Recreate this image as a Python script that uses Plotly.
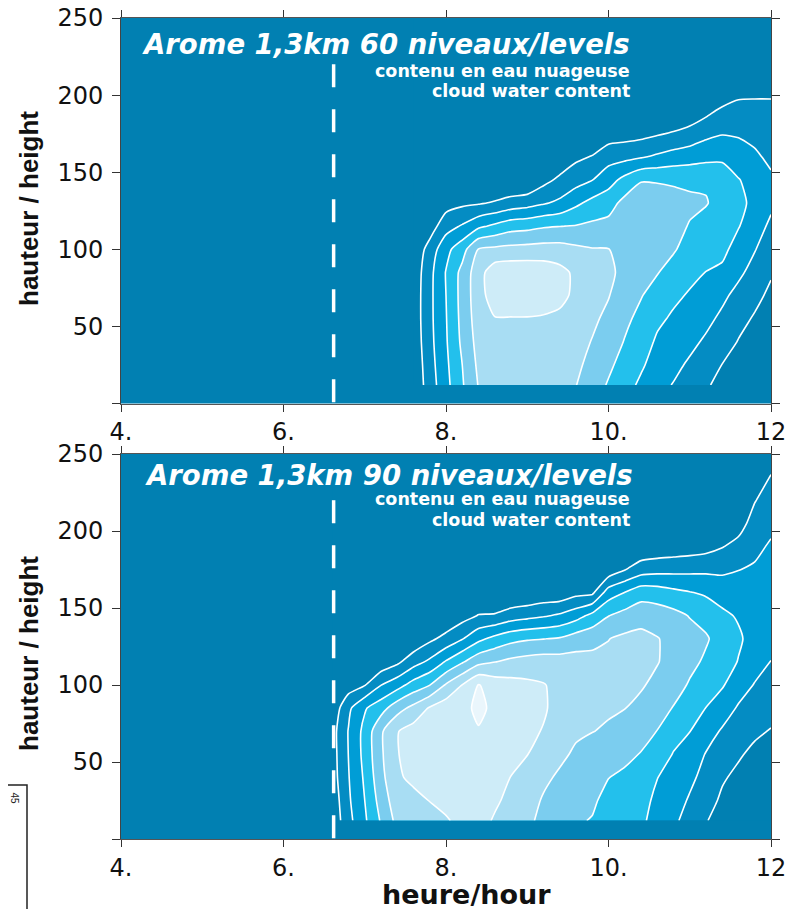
import numpy as np
import plotly.graph_objects as go

# ---------------- data ----------------
hours_ticks = [4, 6, 8, 10, 12]
hours_labels = ["4.", "6.", "8.", "10.", "12"]
height_ticks = [0, 50, 100, 150, 200, 250]
height_labels = ["", "50", "100", "150", "200", "250"]
run_start_hour = 6.617

# panel 1 : Arome 1,3km 60 levels  (cloud water content class, one column per hour)
p1_hours = [7.6, 7.8, 8.0, 8.2, 8.4, 8.6, 8.8, 9.0, 9.2, 9.4, 9.6, 9.8, 10.0,
            10.2, 10.4, 10.6, 10.8, 11.0, 11.2, 11.4, 11.6, 11.8, 12.0]
p1_heights = [12, 25, 40, 55, 70, 85, 100, 115, 130, 145, 160, 175, 190, 205, 250]
p1_columns = [
    [0.2, 0.25, 0.35, 0.4, 0.4, 0.35, 0.2, 0, 0, 0, 0, 0, 0, 0, 0],
    [1.5, 1.6, 1.7, 1.75, 1.75, 1.7, 1.4, 0.5, 0, 0, 0, 0, 0, 0, 0],
    [2.7, 2.8, 2.9, 2.95, 3.0, 3.05, 2.7, 1.6, 0.6, 0, 0, 0, 0, 0, 0],
    [3.9, 4.0, 4.2, 4.3, 4.35, 4.3, 3.6, 2.1, 0.8, 0, 0, 0, 0, 0, 0],
    [5.05, 5.2, 5.35, 5.5, 5.6, 5.6, 5.05, 2.8, 0.9, 0, 0, 0, 0, 0, 0],
    [5.6, 5.7, 5.8, 5.95, 6.5, 6.6, 5.2, 3.2, 1.1, 0, 0, 0, 0, 0, 0],
    [5.5, 5.65, 5.8, 5.95, 6.6, 6.7, 5.3, 3.6, 1.4, 0, 0, 0, 0, 0, 0],
    [5.4, 5.55, 5.75, 5.95, 6.6, 6.7, 5.35, 3.7, 1.6, 0, 0, 0, 0, 0, 0],
    [5.3, 5.45, 5.65, 5.9, 6.5, 6.6, 5.4, 3.9, 1.9, 0.7, 0, 0, 0, 0, 0],
    [5.2, 5.35, 5.55, 5.8, 6.25, 6.3, 5.4, 3.98, 2.2, 1.2, 0.3, 0, 0, 0, 0],
    [5.02, 5.2, 5.4, 5.6, 5.8, 5.8, 5.2, 4.05, 2.8, 1.6, 0.8, 0, 0, 0, 0],
    [4.5, 4.7, 4.95, 5.2, 5.35, 5.35, 5.05, 4.2, 3.3, 1.98, 1.05, 0.2, 0, 0, 0],
    [3.9, 4.2, 4.5, 4.75, 5.05, 5.3, 5.02, 4.3, 3.6, 2.6, 1.6, 0.5, 0, 0, 0],
    [3.4, 3.6, 3.95, 4.2, 4.4, 4.6, 4.7, 4.6, 4.3, 3.3, 1.7, 0.6, 0, 0, 0],
    [2.8, 3.15, 3.5, 3.75, 4.05, 4.2, 4.35, 4.45, 4.45, 3.95, 1.9, 0.7, 0, 0, 0],
    [2.3, 2.55, 2.85, 3.2, 3.6, 4.05, 4.2, 4.3, 4.3, 3.95, 2.15, 0.9, 0, 0, 0],
    [1.95, 2.25, 2.55, 2.85, 3.2, 3.6, 4.1, 4.25, 4.25, 3.9, 2.4, 1.1, 0, 0, 0],
    [1.6, 1.85, 2.25, 2.6, 2.9, 3.25, 3.6, 3.95, 4.15, 3.85, 2.55, 1.35, 0.3, 0, 0],
    [1.1, 1.45, 1.85, 2.25, 2.6, 2.98, 3.35, 3.7, 4.05, 3.9, 2.7, 1.75, 0.7, 0, 0],
    [0.75, 0.98, 1.45, 1.8, 2.2, 2.8, 3.25, 3.55, 3.7, 3.6, 2.8, 1.95, 1.2, 0, 0],
    [0.4, 0.65, 0.95, 1.3, 1.7, 2.2, 2.6, 3.05, 3.25, 3.05, 2.45, 1.9, 1.35, 0.6, 0],
    [0.15, 0.35, 0.6, 0.9, 1.25, 1.65, 2.05, 2.45, 2.75, 2.6, 2.15, 1.75, 1.3, 0.7, 0],
    [0, 0.15, 0.35, 0.55, 0.8, 1.1, 1.45, 1.8, 2.2, 2.15, 1.8, 1.5, 1.2, 0.8, 0],
]

# panel 2 : Arome 1,3km 90 levels
p2_hours = [6.6, 6.7, 6.8, 7.0, 7.2, 7.4, 7.6, 7.8, 8.0, 8.2, 8.4, 8.6, 8.8, 9.0,
            9.2, 9.4, 9.6, 9.8, 10.0, 10.2, 10.4, 10.6, 10.8, 11.0, 11.2, 11.4,
            11.6, 11.8, 12.0]
p2_heights = [12, 25, 40, 55, 70, 85, 100, 115, 130, 145, 160, 175, 190, 205, 220, 235, 250]
p2_columns = [
    [0.3, 0.4, 0.55, 0.6, 0.6, 0.3, 0, 0, 0, 0, 0, 0, 0, 0, 0, 0, 0],
    [0.98, 1.1, 1.25, 1.3, 1.35, 1.05, 0.3, 0, 0, 0, 0, 0, 0, 0, 0, 0, 0],
    [1.7, 1.85, 1.95, 2.02, 2.05, 1.8, 0.5, 0, 0, 0, 0, 0, 0, 0, 0, 0, 0],
    [2.85, 3.0, 3.15, 3.3, 3.3, 2.9, 0.95, 0.1, 0, 0, 0, 0, 0, 0, 0, 0, 0],
    [4.1, 4.4, 4.7, 4.85, 4.85, 3.6, 1.98, 0.3, 0, 0, 0, 0, 0, 0, 0, 0, 0],
    [5.3, 5.6, 5.9, 5.95, 5.95, 4.6, 2.6, 0.8, 0, 0, 0, 0, 0, 0, 0, 0, 0],
    [5.5, 5.8, 6.15, 6.4, 6.4, 5.3, 3.4, 1.6, 0.2, 0, 0, 0, 0, 0, 0, 0, 0],
    [5.7, 6.02, 6.35, 6.55, 6.6, 6.1, 3.98, 2.2, 0.8, 0, 0, 0, 0, 0, 0, 0, 0],
    [5.93, 6.2, 6.5, 6.65, 6.75, 6.6, 5.1, 3.1, 1.3, 0.2, 0, 0, 0, 0, 0, 0, 0],
    [6.2, 6.4, 6.6, 6.75, 6.7, 6.6, 6.02, 3.9, 1.95, 0.6, 0, 0, 0, 0, 0, 0, 0],
    [6.35, 6.5, 6.6, 6.7, 6.9, 7.3, 7.05, 4.7, 2.75, 1.05, 0, 0, 0, 0, 0, 0, 0],
    [5.9, 6.15, 6.35, 6.5, 6.65, 6.7, 6.55, 4.98, 3.3, 1.1, 0, 0, 0, 0, 0, 0, 0],
    [5.5, 5.75, 5.98, 6.25, 6.4, 6.45, 6.35, 5.25, 3.7, 1.5, 0, 0, 0, 0, 0, 0, 0],
    [5.2, 5.4, 5.7, 6.02, 6.2, 6.3, 6.2, 5.4, 3.9, 1.7, 0.1, 0, 0, 0, 0, 0, 0],
    [4.75, 4.9, 5.2, 5.55, 5.95, 6.1, 6.05, 5.5, 3.98, 1.9, 0.3, 0, 0, 0, 0, 0, 0],
    [4.35, 4.55, 4.85, 5.2, 5.5, 5.7, 5.75, 5.45, 4.1, 2.15, 0.3, 0, 0, 0, 0, 0, 0],
    [4.1, 4.3, 4.55, 4.85, 5.15, 5.35, 5.45, 5.4, 4.5, 2.6, 0.7, 0, 0, 0, 0, 0, 0],
    [3.95, 4.15, 4.35, 4.65, 5.02, 5.2, 5.3, 5.3, 4.7, 3.3, 0.8, 0, 0, 0, 0, 0, 0],
    [3.5, 3.7, 4.02, 4.4, 4.9, 5.1, 5.2, 5.2, 4.98, 3.98, 2.5, 0.3, 0, 0, 0, 0, 0],
    [3.15, 3.4, 3.8, 4.25, 4.6, 5.02, 5.2, 5.3, 5.2, 4.35, 3.02, 0.95, 0, 0, 0, 0, 0],
    [3.2, 3.3, 3.6, 3.95, 4.35, 4.75, 5.1, 5.3, 5.3, 4.6, 3.6, 1.5, 0.2, 0, 0, 0, 0],
    [2.6, 2.8, 3.02, 3.5, 3.98, 4.4, 4.75, 5.05, 5.05, 4.5, 3.5, 1.65, 0.3, 0, 0, 0, 0],
    [2.15, 2.4, 2.65, 2.95, 3.35, 3.95, 4.4, 4.65, 4.7, 4.3, 3.25, 1.7, 0.4, 0, 0, 0, 0],
    [1.7, 1.9, 2.2, 2.55, 3.02, 3.5, 3.9, 4.25, 4.4, 3.95, 3.05, 1.75, 0.5, 0, 0, 0, 0],
    [1.05, 1.35, 1.7, 1.95, 2.4, 2.98, 3.5, 3.85, 4.1, 3.7, 2.85, 1.8, 0.65, 0, 0, 0, 0],
    [0.65, 0.85, 1.1, 1.5, 1.9, 2.45, 3.1, 3.5, 3.6, 3.2, 2.6, 1.8, 0.95, 0, 0, 0, 0],
    [0.35, 0.55, 0.8, 1.1, 1.45, 1.9, 2.4, 2.95, 3.15, 2.9, 2.4, 1.98, 1.3, 0.6, 0.1, 0, 0],
    [0.15, 0.3, 0.5, 0.8, 1.15, 1.5, 1.95, 2.35, 2.6, 2.6, 2.4, 2.1, 1.8, 1.4, 0.95, 0.5, 0],
    [0, 0.2, 0.4, 0.65, 0.95, 1.3, 1.65, 1.98, 2.3, 2.45, 2.45, 2.3, 2.1, 1.8, 1.45, 1.05, 0.6],
]

# ---------------- styling ----------------
class_colors = ["#0180B2", "#048CC3", "#009DD6", "#23C0EC",
                "#7BCDEF", "#A8DDF3", "#CEECF8", "#EAF6FC"]
n = len(class_colors)
colorscale = []
for i, c in enumerate(class_colors):
    colorscale.append([i / n, c])
    colorscale.append([(i + 1) / n, c])

# the page body has an 8px default margin: the figure is sized so it ends at the window edge
OFF = 8
W, H = 799 - OFF, 909 - OFF
ML, MR, MT, MB = 121 - OFF, 28, 18 - OFF, 70
PW, PH = W - ML - MR, H - MT - MB


def fx(px):
    """window pixel x -> paper fraction"""
    return (px - OFF - ML) / PW


def fy(py):
    """window pixel y -> paper fraction"""
    return (H - MB - (py - OFF)) / PH


def contour(xs, ys, cols, xa, ya):
    z = np.array(cols, dtype=float).T
    return go.Contour(
        x=xs, y=ys, z=z, xaxis=xa, yaxis=ya,
        autocontour=False,
        contours=dict(start=1, end=8, size=1, coloring="fill", showlines=True),
        line=dict(color="white", width=1.6, smoothing=0.6),
        colorscale=colorscale, showscale=False, hoverinfo="skip",
    )


fig = go.Figure()
fig.add_trace(contour(p1_hours, p1_heights, p1_columns, "x", "y"))
fig.add_trace(contour(p2_hours, p2_heights, p2_columns, "x2", "y2"))

tickfont = dict(family="DejaVu Sans", size=24, color="#111111")
xcommon = dict(range=[4, 12], tickvals=hours_ticks, ticktext=hours_labels,
               ticks="outside", ticklen=7, tickwidth=1, tickcolor="#333333",
               showline=True, linecolor="#555555", linewidth=1, mirror="ticks",
               showgrid=False, zeroline=False, tickfont=tickfont,
               ticklabelstandoff=0, automargin=False, ticklabeloverflow="allow")
ycommon = dict(range=[0, 250], tickvals=height_ticks, ticktext=height_labels,
               ticks="outside", ticklen=8, tickwidth=1, tickcolor="#333333",
               showline=True, linecolor="#444444", linewidth=1, mirror="ticks",
               showgrid=False, zeroline=False, tickfont=tickfont,
               ticklabelstandoff=4, automargin=False, ticklabeloverflow="allow")

top_lo = fy(403.5)
bot_hi = fy(454)

fig.update_layout(
    width=W, height=H,
    margin=dict(l=ML, r=MR, t=MT, b=MB, pad=0, autoexpand=False),
    paper_bgcolor="white", plot_bgcolor=class_colors[0],
    showlegend=False, hovermode=False,
    xaxis=dict(domain=[0, 1], anchor="y", **xcommon),
    yaxis=dict(domain=[top_lo, 1], anchor="x", **ycommon),
    xaxis2=dict(domain=[0, 1], anchor="y2", **xcommon),
    yaxis2=dict(domain=[0, bot_hi], anchor="x2", **ycommon),
)

# dashed vertical line (start of the run)
for xr, yr in (("x", "y"), ("x2", "y2")):
    fig.add_shape(type="line", xref=xr, yref=yr, x0=run_start_hour, x1=run_start_hour,
                  y0=220, y1=0, line=dict(color="white", width=3.5, dash="23px,22px"))

white_title = dict(family="DejaVu Sans", size=27.5, color="white", weight="bold", style="italic")
white_sub = dict(family="DejaVu Sans", size=17.5, color="white", weight="bold")

panels = [
    ("Arome 1,3km 60 niveaux/levels", 140, 43.6, 70.5, 91.0, 209),
    ("Arome 1,3km 90 niveaux/levels", 143, 475.0, 499.5, 519.5, 654),
]
for title, tx, ty, s1y, s2y, ylab in panels:
    fig.add_annotation(text=title, xref="paper", yref="paper", x=fx(tx), y=fy(ty),
                       xanchor="left", yanchor="middle", showarrow=False, font=white_title)
    fig.add_annotation(text="contenu en eau nuageuse", xref="paper", yref="paper",
                       x=fx(632), y=fy(s1y), xanchor="right", yanchor="middle",
                       showarrow=False, font=white_sub)
    fig.add_annotation(text="cloud water content", xref="paper", yref="paper",
                       x=fx(632), y=fy(s2y), xanchor="right", yanchor="middle",
                       showarrow=False, font=white_sub)
    fig.add_annotation(text="hauteur / height", xref="paper", yref="paper",
                       x=fx(29), y=fy(ylab), xanchor="center", yanchor="middle",
                       textangle=-90, showarrow=False,
                       font=dict(family="Liberation Sans", size=26, color="#111111", weight="bold"))

fig.add_annotation(text="heure/hour", xref="paper", yref="paper", x=fx(466), y=fy(895),
                   xanchor="center", yanchor="middle", showarrow=False,
                   font=dict(family="DejaVu Sans", size=27, color="#111111", weight="bold"))

# fragment of a neighbouring figure at the bottom-left edge
fig.add_shape(type="rect", xref="paper", yref="paper", x0=fx(-5), x1=fx(27),
              y0=fy(925), y1=fy(785), line=dict(color="#222222", width=1.5))
fig.add_annotation(text="45", xref="paper", yref="paper", x=fx(7), y=fy(806),
                   textangle=90, showarrow=False,
                   font=dict(family="Liberation Sans", size=10, color="#222222"))

fig.write_html("out.html", config={"displayModeBar": False})
